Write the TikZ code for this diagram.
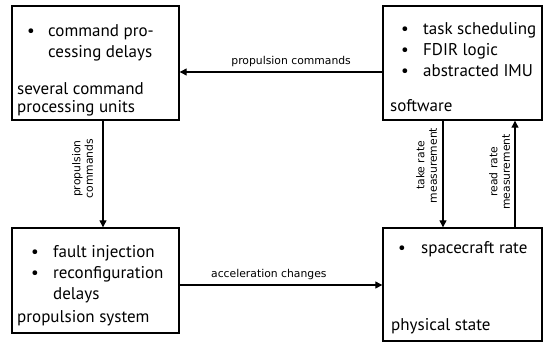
\documentclass[tikz,border=0pt]{standalone}
\usepackage{fontspec}
\setmainfont{PT Sans}
\newfontfamily\lblfont{DejaVu Sans}
\usetikzlibrary{arrows.meta}

\begin{document}
\begin{tikzpicture}[x=1pt,y=-1pt,>={Triangle[length=7pt,width=7pt]},
    font=\fontsize{17}{21}\selectfont]
  \tikzset{
    blk/.style={draw,line width=1.4pt,inner sep=0pt},
    txt/.style={inner sep=0pt,anchor=base west},
    lbl/.style={font=\lblfont\fontsize{10.8}{12.5}\selectfont,align=center,inner sep=2pt},
    link/.style={->,line width=1.2pt}
  }
  \useasboundingbox (0,0) rectangle (543,343);
  % boxes
  \node[blk,minimum width=167,minimum height=114] (cmd) at (95.5,63) {};
  \node[blk,minimum width=159,minimum height=114] (sw) at (462.5,63) {};
  \node[blk,minimum width=167,minimum height=105] (prop) at (95.5,280.5) {};
  \node[blk,minimum width=159,minimum height=113] (phys) at (462.5,284.5) {};
  % contents
  \node[txt] (cmdlist) at (27,36) {\begin{tabular}[t]{@{}p{21pt}@{}l@{}}
    \textbullet & command pro-\\ & cessing delays\end{tabular}};
  \node[txt] (cmdname) at (17,112) {\def\arraystretch{.85}\begin{tabular}[b]{@{}l@{}}
    several command\\processing units\end{tabular}};
  \node[txt] (swlist) at (401,34) {\begin{tabular}[t]{@{}p{22pt}@{}l@{}}
    \textbullet & task scheduling\\ \textbullet & FDIR logic\\
    \textbullet & abstracted IMU\end{tabular}};
  \node[txt] (swname) at (390,111) {software};
  \node[txt] (proplist) at (31,257) {\begin{tabular}[t]{@{}p{22pt}@{}l@{}}
    \textbullet & fault injection\\ \textbullet & reconfiguration\\
    & delays\end{tabular}};
  \node[txt] (propname) at (17,322) {propulsion system};
  \node[txt] (physlist) at (398,253) {\begin{tabular}[t]{@{}p{23pt}@{}l@{}}
    \textbullet & spacecraft rate\end{tabular}};
  \node[txt] (physname) at (391,330) {physical state};
  % connectors
  \draw[link] ([yshift=-9pt]sw.west) -- ([yshift=-9pt]cmd.east)
    node[lbl,pos=.45,above=3pt] {propulsion commands};
  \draw[link] ([xshift=7.5pt]cmd.south) -- ([xshift=7.5pt]prop.north)
    node[lbl,pos=.45,rotate=90,anchor=south,outer sep=8pt] {propulsion\\commands};
  \draw[link] ([yshift=-4.5pt]prop.east) -- ([yshift=-0.5pt]phys.west)
    node[lbl,pos=.44,above=3pt] {acceleration changes};
  \draw[link] ([xshift=-19.5pt]sw.south) -- ([xshift=-19.5pt]phys.north)
    node[lbl,pos=.42,rotate=90,anchor=south,outer sep=4pt] {take rate\\measurement};
  \draw[link] ([xshift=52.5pt]phys.north) -- ([xshift=52.5pt]sw.south)
    node[lbl,pos=.52,rotate=90,anchor=south,outer sep=3pt] {read rate\\measurement};
\end{tikzpicture}
\end{document}
